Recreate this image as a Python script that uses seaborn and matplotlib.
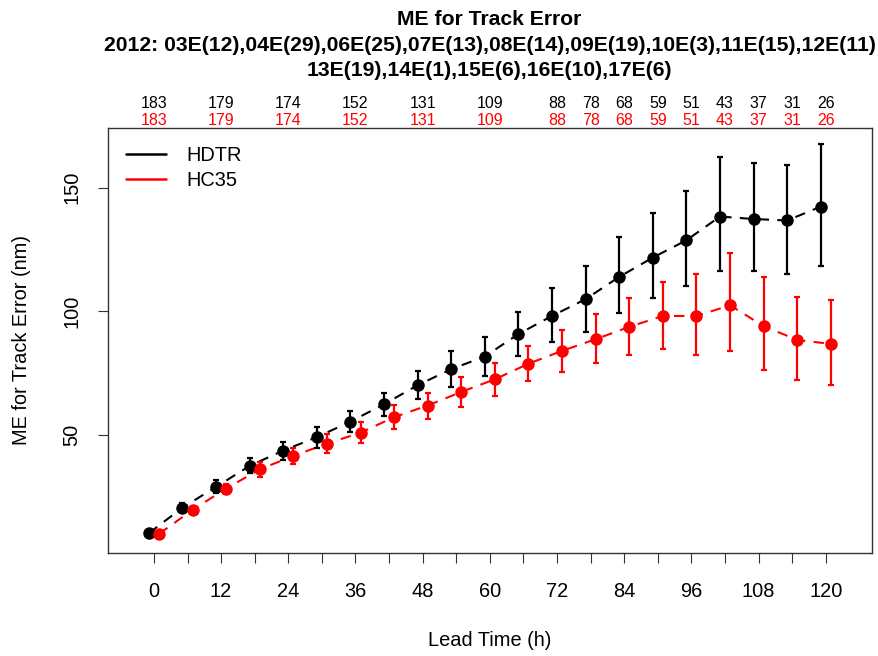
import numpy as np
import pandas as pd
import matplotlib
matplotlib.use('Agg')
import matplotlib.pyplot as plt
from matplotlib.lines import Line2D
import seaborn as sns

sns.set_style('white')
plt.rcParams['font.family'] = ['Liberation Sans', 'DejaVu Sans']
plt.rcParams.update({'text.color': 'black', 'axes.labelcolor': 'black',
                     'xtick.color': 'black', 'ytick.color': 'black'})

# lead times (h) and mean track error (nm) with error bar limits
lead = list(range(0, 121, 6))
hdtr_me = [10.3, 20.6, 29.0, 37.5, 43.7, 49.1, 55.4, 62.4, 70.1, 76.6, 81.7,
           90.8, 98.1, 104.9, 113.9, 121.7, 128.7, 138.3, 137.3, 136.7, 142.3]
hdtr_lo = [9.9, 19.0, 26.4, 34.5, 39.9, 44.9, 51.1, 57.7, 64.4, 69.5, 74.0,
           81.9, 87.5, 91.6, 99.2, 105.5, 110.4, 116.2, 116.3, 115.1, 118.3]
hdtr_hi = [10.7, 22.6, 31.7, 40.7, 47.3, 53.1, 59.8, 67.0, 76.0, 84.0, 89.5,
           99.7, 109.3, 118.1, 129.9, 139.8, 148.7, 162.5, 160.0, 159.0, 167.5]
hc35_me = [10.0, 19.7, 28.3, 36.1, 41.5, 46.5, 50.9, 57.2, 61.9, 67.4, 72.5,
           78.8, 84.0, 88.7, 93.7, 98.1, 98.1, 102.4, 94.0, 88.4, 86.8]
hc35_lo = [9.6, 18.6, 26.1, 33.1, 38.2, 42.6, 46.6, 52.4, 56.5, 61.3, 65.8,
           72.0, 75.6, 79.0, 82.3, 84.9, 82.2, 84.1, 76.3, 72.2, 70.1]
hc35_hi = [10.4, 21.0, 30.2, 39.0, 44.6, 50.4, 55.4, 62.0, 67.1, 73.6, 79.2,
           86.0, 92.5, 98.8, 105.5, 111.7, 115.1, 123.7, 114.0, 105.9, 104.7]

# sample counts shown above the plot
count_lead = [0, 12, 24, 36, 48, 60, 72, 78, 84, 90, 96, 102, 108, 114, 120]
hdtr_n = [183, 179, 174, 152, 131, 109, 88, 78, 68, 59, 51, 43, 37, 31, 26]
hc35_n = [183, 179, 174, 152, 131, 109, 88, 78, 68, 59, 51, 43, 37, 31, 26]

title = ('ME for Track Error\n'
         '2012: 03E(12),04E(29),06E(25),07E(13),08E(14),09E(19),10E(3),11E(15),12E(11)\n'
         '13E(19),14E(1),15E(6),16E(10),17E(6)')

shift = 0.9  # small horizontal offset so the two models don't overlap
models = {'HDTR': ('black', -shift, hdtr_me, hdtr_lo, hdtr_hi, hdtr_n),
          'HC35': ('red', shift, hc35_me, hc35_lo, hc35_hi, hc35_n)}

frames = []
for name, (col, dx, me, lo, hi, n) in models.items():
    frames.append(pd.DataFrame({'lead': np.array(lead) + dx, 'me': me,
                                'lo': lo, 'hi': hi, 'model': name}))
df = pd.concat(frames, ignore_index=True)

fig = plt.figure(figsize=(8.79, 6.56), dpi=100)
ax = fig.add_axes([0.1229, 0.1575, 0.8688, 0.6474])

palette = {k: v[0] for k, v in models.items()}
sns.lineplot(data=df, x='lead', y='me', hue='model', style='model',
             palette=palette, dashes={'HDTR': (5, 4), 'HC35': (5, 4)},
             markers={'HDTR': 'o', 'HC35': 'o'}, markersize=9,
             markeredgewidth=0, linewidth=1.5, estimator=None, sort=False,
             legend=False, ax=ax)

for name, (col, dx, me, lo, hi, n) in models.items():
    sub = df[df['model'] == name]
    ax.errorbar(sub['lead'], sub['me'],
                yerr=[sub['me'] - sub['lo'], sub['hi'] - sub['me']],
                fmt='none', ecolor=col, elinewidth=1.6, capsize=2, capthick=1.6)

# counts above the frame
trans = ax.get_xaxis_transform()
for i, c in enumerate(count_lead):
    ax.text(c, 1.0565, str(hdtr_n[i]), color='black', fontsize=11.5,
            ha='center', va='center', transform=trans)
    ax.text(c, 1.0188, str(hc35_n[i]), color='red', fontsize=11.5,
            ha='center', va='center', transform=trans)

ax.set_xlim(-8.2, 128.2)
ax.set_ylim(2.4, 174.1)
ax.set_xticks(lead)
ax.set_xticklabels([str(h) if h % 12 == 0 else '' for h in lead])
ax.set_yticks([50, 100, 150])
ax.set_yticklabels(['50', '100', '150'], rotation=90, va='center')
ax.tick_params(axis='both', direction='out', length=7, width=0.8,
               color='#333333', labelsize=14.4, bottom=True, left=True)
ax.tick_params(axis='x', pad=14)
ax.tick_params(axis='y', pad=12)
for s in ax.spines.values():
    s.set_color('#333333')
    s.set_linewidth(1.0)

ax.set_xlabel('Lead Time (h)', fontsize=14.4)
ax.set_ylabel('ME for Track Error (nm)', fontsize=14.4)
ax.xaxis.set_label_coords(0.5, -0.184)
ax.yaxis.set_label_coords(-0.1008, 0.5)

handles = [Line2D([], [], color=palette[k], lw=1.8) for k in models]
ax.legend(handles, list(models), loc='upper left', frameon=False,
          fontsize=14.4, handlelength=2.0, handletextpad=1.0,
          borderaxespad=0.5, labelspacing=0.3)

fig.text(0.557, 0.931, title, ha='center', va='center', fontsize=15.2,
         fontweight='bold', linespacing=1.42)

fig.savefig('out.png', dpi=100)
